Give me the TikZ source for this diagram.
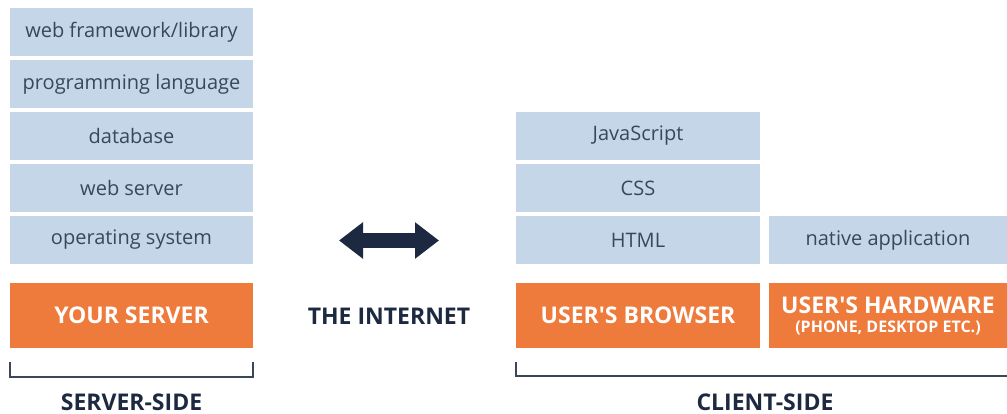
\documentclass[tikz,border=0pt]{standalone}
\usepackage{fontspec}
\setmainfont{Open Sans}
\usetikzlibrary{arrows.meta,calc}
\definecolor{layerblue}{HTML}{C6D6E9}
\definecolor{hostorange}{HTML}{EE7A3B}
\definecolor{inktext}{HTML}{3A475A}
\definecolor{inknavy}{HTML}{1C2940}
\tikzset{
    layer/.style={fill=layerblue, minimum height=48pt, inner sep=0pt,
        text=inktext, font=\fontsize{20}{24}\selectfont},
    host/.style={fill=hostorange, minimum height=65pt, inner sep=0pt,
        text=white, align=center, font=\fontsize{23}{26}\selectfont\bfseries},
    side/.style={text=inknavy, font=\fontsize{23}{26}\selectfont\bfseries},
    bracket/.style={line width=1.5pt, inktext}
}
\begin{document}
\begin{tikzpicture}[x=1pt,y=-1pt]
            \useasboundingbox (0,0) rectangle (1007,414);
            % server stack
            \foreach \y/\n/\t in {32/fw/{web framework/library},84/lang/programming language,
                136/db/database,188/ws/web server,240/os/operating system}
            {
                \node[layer, minimum width=243pt] (\n) at (131.5,\y) {\t};
            }
            \node[host, minimum width=243pt] (srv) at (131.5,315.5) {YOUR SERVER};
            % client stack
            \node[layer, minimum width=244pt] (js) at (638,136) {JavaScript};
            \node[layer, minimum width=244pt] (css) at (638,188) {CSS};
            \node[layer, minimum width=244pt] (html) at (638,240) {HTML};
            \node[layer, minimum width=238pt] (app) at (888,240) {native application};
            \node[host, minimum width=244pt] (brw) at (638,315.5) {USER\textquotesingle S BROWSER};
            \node[host, minimum width=238pt] (hw) at (888,315.5) {USER\textquotesingle S HARDWARE\\[-7pt]
                {\fontsize{16}{18}\selectfont (PHONE, DESKTOP ETC.)}};
                % the internet
                \coordinate (netL) at (339,240.5);
                \coordinate (netR) at (439,240.5);
                \draw[inknavy, line width=15pt,
                    {Triangle[length=24pt,width=35pt]}-{Triangle[length=24pt,width=35pt]}]
                    (netL) -- (netR);
                \node[side] (net) at (389,316) {THE INTERNET};

            % brackets
            \draw[bracket] ($(srv.south west)+(0,14)$) -- ++(0,15) -| ($(srv.south east)+(0,14)$);
            \draw[bracket] ($(brw.south west)+(0,14)$) -- ++(0,14) -- ($(hw.south east)+(0,28)$);
            \node[side] (sside) at (131.5,402) {SERVER-SIDE};
            \node[side] (cside) at (765,402) {CLIENT-SIDE};

        \end{tikzpicture}
\end{document}
